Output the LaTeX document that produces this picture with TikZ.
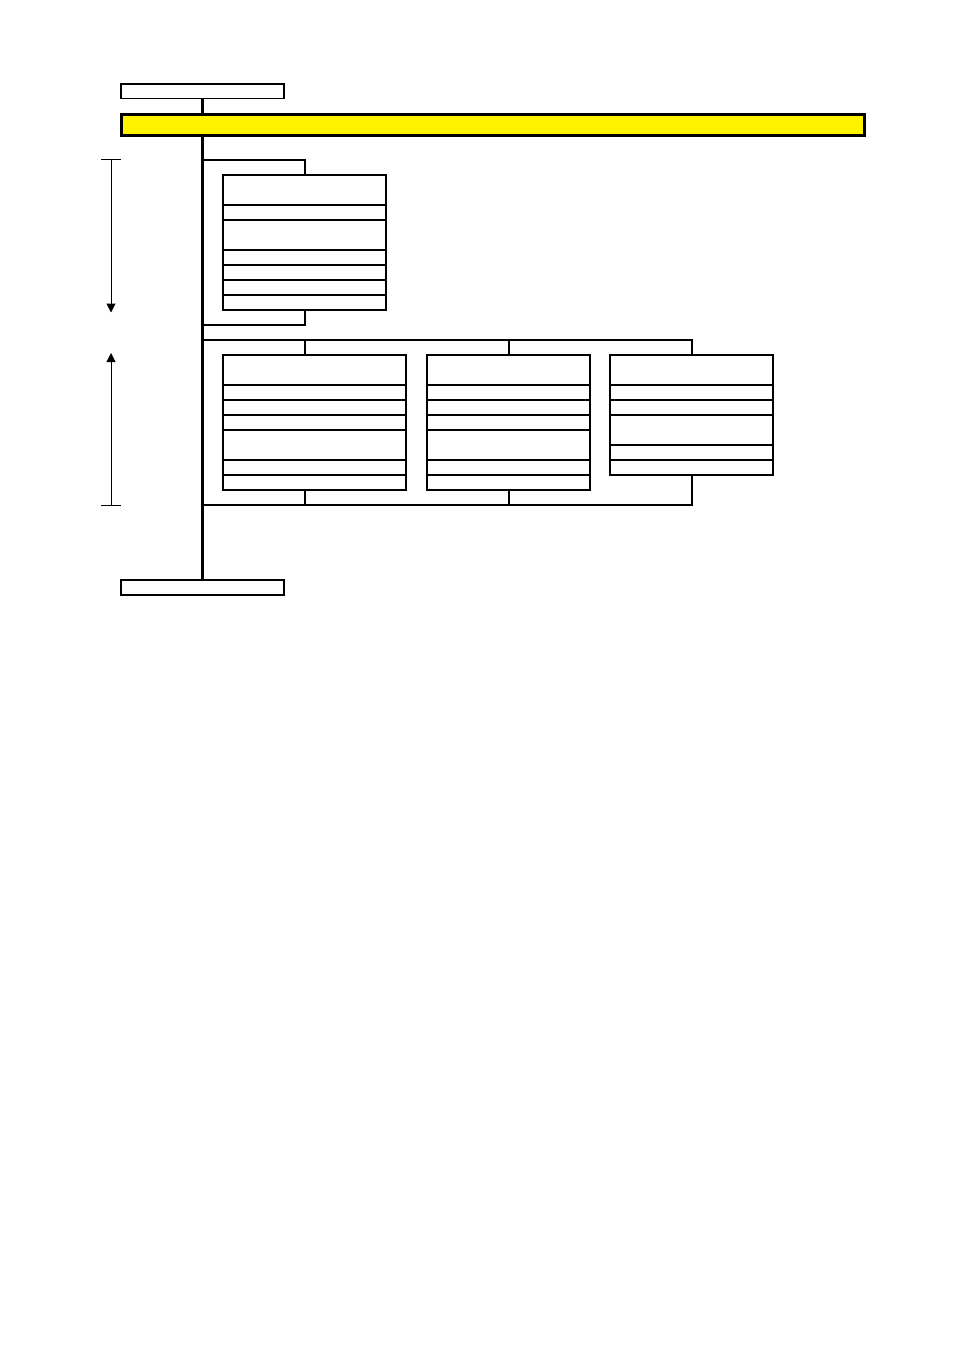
\documentclass[tikz,border=0pt]{standalone}
\usetikzlibrary{arrows.meta}

\tikzset{
  cell/.style={draw, line width=1.2pt, inner sep=0pt, minimum width=163pt, minimum height=15pt},
  tall/.style={minimum height=30pt},
  link/.style={line width=2pt},
  trunk/.style={line width=3pt},
  measure/.style={line width=1pt, -{Triangle[width=9pt,length=9pt]}}
}

\begin{document}
\begin{tikzpicture}[x=1pt, y=-1pt]

      \useasboundingbox (0,0) rectangle (954,1351);

      % top and bottom boxes, yellow bar
      \node[cell, minimum height=14.5pt] (top) at (202.5,91.25) {};
      \node[cell] (bottom) at (202.5,587.5) {};
      \node[draw, fill=yellow, line width=3pt, inner sep=0pt,
            minimum width=743pt, minimum height=20.7pt] (bar) at (493,124.8) {};

      % first group
      \begin{scope}[every node/.style={cell}]
        \node[tall] (p1) at (304.5,190) {};
        \node (p2) at (304.5,212.5) {};
        \node[tall] (p3) at (304.5,235) {};
        \node (p4) at (304.5,257.5) {};
        \node (p5) at (304.5,272.5) {};
        \node (p6) at (304.5,287.5) {};
        \node (p7) at (304.5,302.5) {};
      \end{scope}

      % second group
      \begin{scope}[every node/.style={cell}]
        \begin{scope}[every node/.append style={minimum width=183pt}]
          \node[tall] (a1) at (314.5,370) {};
          \node (a2) at (314.5,392.5) {};
          \node (a3) at (314.5,407.5) {};
          \node (a4) at (314.5,422.5) {};
          \node[tall] (a5) at (314.5,445) {};
          \node (a6) at (314.5,467.5) {};
          \node (a7) at (314.5,482.5) {};
        \end{scope}

        \node[tall] (b1) at (508.5,370) {};
        \node (b2) at (508.5,392.5) {};
        \node (b3) at (508.5,407.5) {};
        \node (b4) at (508.5,422.5) {};
        \node[tall] (b5) at (508.5,445) {};
        \node (b6) at (508.5,467.5) {};
        \node (b7) at (508.5,482.5) {};

        \node[tall] (c1) at (691.5,370) {};
        \node (c2) at (691.5,392.5) {};
        \node (c3) at (691.5,407.5) {};
        \node[tall] (c4) at (691.5,430) {};
        \node (c5) at (691.5,452.5) {};
        \node (c6) at (691.5,467.5) {};
      \end{scope}

      % trunk
      \coordinate (j1) at (202.5,160);
      \coordinate (j2) at (202.5,325);
      \coordinate (j3) at (202.5,340);
      \coordinate (j4) at (202.5,505);
      \draw[trunk] (top.south) -- (top.south |- bar.north);
      \draw[trunk] (top.south |- bar.south) -- (bottom.north);

      % brackets
      \draw[link] (j1) -| (p1.north);
      \draw[link] (p7.south) |- (j2);
      \draw[link] (j3) -| (c1.north);
      \draw[link] (j3 -| p1) -- (a1.north -| p1);
      \draw[link] (j3 -| b1) -- (b1.north);
      \draw[link] (j4) -| (c6.south);
      \draw[link] (a7.south -| p1) -- (j4 -| p1);
      \draw[link] (b7.south) -- (j4 -| b1);

      % measures on the left
      \coordinate (m1) at (111,160);
      \coordinate (m2) at (111,312.5);
      \coordinate (m3) at (111,353);
      \coordinate (m4) at (111,505);
      \draw[line width=1pt] ([xshift=-10pt]m1) -- ([xshift=10pt]m1);
      \draw[line width=1pt] ([xshift=-10pt]m4) -- ([xshift=10pt]m4);
      \draw[measure] (m1) -- (m2);
      \draw[measure] (m4) -- (m3);

    \end{tikzpicture}
\end{document}
